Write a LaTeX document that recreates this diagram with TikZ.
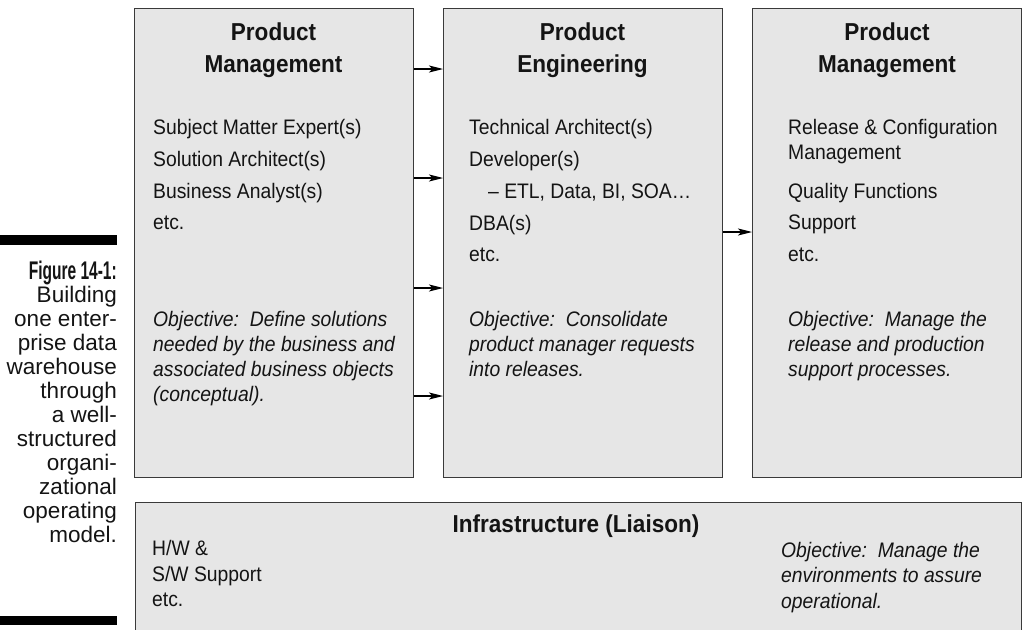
\documentclass[tikz,border=0pt]{standalone}
\usepackage{fontspec}
\usepackage{graphicx}
\setmainfont{Liberation Sans}[FakeStretch=0.92]
\newfontfamily\capfont{Liberation Sans}
\usetikzlibrary{arrows.meta}
\definecolor{boxfill}{RGB}{230,230,230}
\definecolor{boxline}{RGB}{58,58,58}
\definecolor{txt}{RGB}{20,20,20}
\begin{document}
\begin{tikzpicture}[x=1pt,y=-1pt,
  panel/.style={draw=boxline, fill=boxfill, line width=1.3pt, rectangle, inner sep=0pt, anchor=north west},
  ttl/.style={font=\fontsize{24.5}{32}\selectfont\bfseries, anchor=base, text=txt, inner sep=0pt},
  body/.style={font=\fontsize{21}{31.7}\selectfont, anchor=base west, text=txt, inner sep=0pt},
  obj/.style={font=\fontsize{21}{25}\selectfont\itshape, anchor=base west, text=txt, inner sep=0pt},
  captxt/.style={font=\capfont\fontsize{22.5}{24}\selectfont, anchor=base east, text=txt, inner sep=0pt},
  figtxt/.style={font=\capfont\bfseries\fontsize{25}{26}\selectfont, anchor=base east, text=txt, inner sep=0pt},
  arr/.style={-{Stealth[length=14pt,width=7pt,inset=3.5pt]}, line width=1.2pt, black},
  capbar/.style={fill=black, draw=none}]
\useasboundingbox (0,0) rectangle (1024,629);

% caption bars
\fill[capbar] (0,235) rectangle (117,245);
\fill[capbar] (0,616) rectangle (117,625);

% caption
\node[figtxt] (c0) at (117,279) {\resizebox{88pt}{18.5pt}{Figure 14-1:}};
\node[captxt] (c1) at (117,302) {Building};
\node[captxt] (c2) at (117,326) {one enter-};
\node[captxt] (c3) at (117,350) {prise data};
\node[captxt] (c4) at (117,374) {warehouse};
\node[captxt] (c5) at (117,398) {through};
\node[captxt] (c6) at (117,422) {a well-};
\node[captxt] (c7) at (117,446) {structured};
\node[captxt] (c8) at (117,470) {organi-};
\node[captxt] (c9) at (117,494) {zational};
\node[captxt] (c10) at (117,518) {operating};
\node[captxt] (c11) at (117,542) {model.};

% panels
\node[panel, minimum width=279pt, minimum height=469pt] (pm) at (134,8) {};
\node[panel, minimum width=279pt, minimum height=469pt] (pe) at (443,8) {};
\node[panel, minimum width=269pt, minimum height=469pt] (rm) at (752,8) {};
\begin{scope}
\clip (0,0) rectangle (1024,629);
\node[panel, minimum width=886pt, minimum height=160pt] (inf) at (135,502) {};
\end{scope}

% arrows
\coordinate (y1) at (0,69);
\coordinate (y2) at (0,178);
\coordinate (y3) at (0,288);
\coordinate (y4) at (0,396);
\coordinate (y5) at (0,232);
\draw[arr] (pm.east |- y1) -- (pe.west |- y1);
\draw[arr] (pm.east |- y2) -- (pe.west |- y2);
\draw[arr] (pm.east |- y3) -- (pe.west |- y3);
\draw[arr] (pm.east |- y4) -- (pe.west |- y4);
\draw[arr] (pe.east |- y5) -- (rm.west |- y5);

% panel 1
\node[ttl] (t1a) at (273.5,40.7) {Product};
\node[ttl] (t1b) at (273.5,72.7) {Management};
\node[body] (p1a) at (153,134) {Subject Matter Expert(s)};
\node[body] (p1b) at (153,166) {Solution Architect(s)};
\node[body] (p1c) at (153,198) {Business Analyst(s)};
\node[body] (p1d) at (153,229) {etc.};
\node[obj] (o1a) at (153,326) {Objective:\ \ Define solutions};
\node[obj] (o1b) at (153,351) {needed by the business and};
\node[obj] (o1c) at (153,376) {associated business objects};
\node[obj] (o1d) at (153,401) {(conceptual).};

% panel 2
\node[ttl] (t2a) at (582.5,40.7) {Product};
\node[ttl] (t2b) at (582.5,72.7) {Engineering};
\node[body] (p2a) at (469,134) {Technical Architect(s)};
\node[body] (p2b) at (469,166) {Developer(s)};
\node[body] (p2c) at (488,198) {– ETL, Data, BI, SOA…};
\node[body] (p2d) at (469,230) {DBA(s)};
\node[body] (p2e) at (469,261) {etc.};
\node[obj] (o2a) at (469,326) {Objective:\ \ Consolidate};
\node[obj] (o2b) at (469,351) {product manager requests};
\node[obj] (o2c) at (469,376) {into releases.};

% panel 3
\node[ttl] (t3a) at (887,40.7) {Product};
\node[ttl] (t3b) at (887,72.7) {Management};
\node[body] (p3a) at (788,134) {Release \& Configuration};
\node[body] (p3b) at (788,159) {Management};
\node[body] (p3c) at (788,198) {Quality Functions};
\node[body] (p3d) at (788,229) {Support};
\node[body] (p3e) at (788,261) {etc.};
\node[obj] (o3a) at (788,326) {Objective:\ \ Manage the};
\node[obj] (o3b) at (788,351) {release and production};
\node[obj] (o3c) at (788,376) {support processes.};

% infrastructure
\node[ttl] (t4) at (576,532) {Infrastructure (Liaison)};
\node[body] (p4a) at (152,555) {H/W \&};
\node[body] (p4b) at (152,581) {S/W Support};
\node[body] (p4c) at (152,606) {etc.};
\node[obj] (o4a) at (781,557) {Objective:\ \ Manage the};
\node[obj] (o4b) at (781,582) {environments to assure};
\node[obj] (o4c) at (781,608) {operational.};
\end{tikzpicture}
\end{document}
